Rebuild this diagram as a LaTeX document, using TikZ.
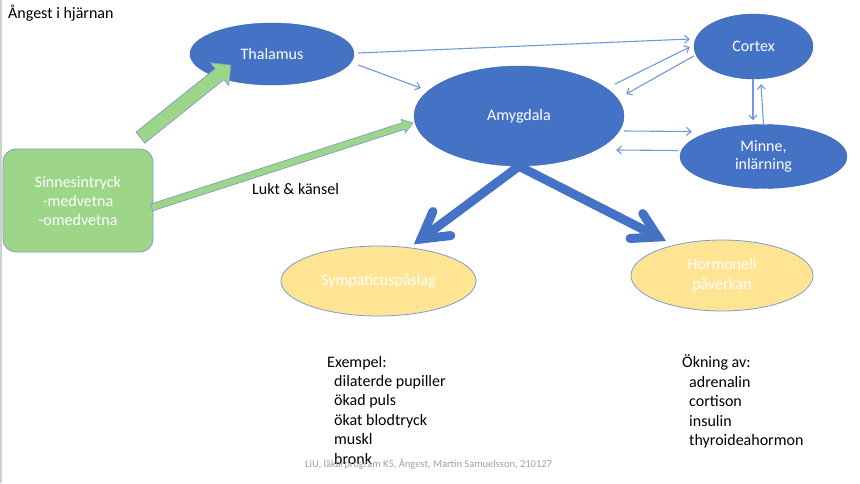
\documentclass[tikz,border=0pt]{standalone}
\usepackage{fontspec}
\setmainfont{Carlito}
\usetikzlibrary{shapes.geometric,calc,arrows.meta}
\definecolor{oblue}{HTML}{4472C4}
\definecolor{lblue}{HTML}{7397DA}
\definecolor{ogreen}{HTML}{9DD589}
\definecolor{oyellow}{HTML}{FFE593}
\definecolor{edgeb}{HTML}{7F9CCB}
\definecolor{footg}{HTML}{A0A0A0}
\definecolor{stripg}{HTML}{D0D0D0}
\newcommand{\blkarrow}[6]{%
  \path ($(#3)!#6!(#2)$) coordinate (hb);
  \filldraw[#1] ($(#2)!#4!90:(#3)$) -- ($(hb)!#4!90:(#3)$) -- ($(hb)!#5!90:(#3)$) -- (#3)
    -- ($(hb)!#5!-90:(#3)$) -- ($(hb)!#4!-90:(#3)$) -- ($(#2)!#4!-90:(#3)$) -- cycle;}
\tikzset{
  nodefont/.style={font=\fontsize{16}{19}\selectfont},
  blueell/.style={ellipse, fill=oblue, draw=oblue!90!black, line width=0.4pt, text=white,
    inner sep=0pt, align=center, nodefont},
  yellell/.style={ellipse, fill=oyellow, draw=edgeb, line width=0.8pt, text=white,
    inner sep=0pt, align=center, font=\fontsize{16}{20}\selectfont},
  greenbox/.style={rectangle, rounded corners=13pt, fill=ogreen, draw=edgeb, line width=0.8pt,
    text=white, inner sep=0pt, align=center, nodefont},
  thinarr/.style={draw=lblue, line width=1.1pt, -{Straight Barb[length=4.5pt,width=8pt]}},
  bigarr/.style={draw=oblue, line width=9pt, line cap=round, line join=miter},
  greenarr/.style={fill=ogreen, draw=edgeb, line width=0.7pt},
  txt/.style={anchor=base west, inner sep=0pt, font=\fontsize{16}{19}\selectfont, text=black},
}
\begin{document}
\begin{tikzpicture}[x=1pt,y=-1pt]
\useasboundingbox (0,0) rectangle (860,483);
\fill[white] (0,0) rectangle (860,483);
\fill[stripg] (0,0) rectangle (2,483);

% title
\node[txt] (title) at (8,18.5) {Ångest i hjärnan};

% nodes
\node[blueell, minimum width=164, minimum height=62] (thal) at (272,54) {Thalamus};
\node[blueell, minimum width=210, minimum height=100] (amy) at (519,116) {Amygdala};
\node[blueell, minimum width=119, minimum height=65] (cortex) at (753.5,46.5) {Cortex};
\node[blueell, minimum width=167, minimum height=64, font=\fontsize{16}{18}\selectfont] (minne) at (763.5,156.5) {Minne,\\inlärning};
\node[greenbox, minimum width=150, minimum height=103] (sinne) at (78,200.5) {Sinnesintryck\\-medvetna\\-omedvetna};
\node[yellell, minimum width=195, minimum height=70] (sym) at (378.5,281) {Sympaticuspåslag};
\node[yellell, minimum width=182, minimum height=71] (horm) at (722,275.5) {Hormonell\\påverkan};

% green block arrows
\coordinate (g1s) at ($(sinne.north east)+(-13,-11)$);
\coordinate (g1e) at ($(thal.south west)+(17,-11)$);
\blkarrow{greenarr}{g1s}{g1e}{7pt}{14.5pt}{14.5pt}
\coordinate (g2s) at ($(sinne.east)+(-2,7)$);
\coordinate (g2e) at ($(amy.west)+(-1,7)$);
\blkarrow{greenarr}{g2s}{g2e}{3.5pt}{7pt}{10pt}
\node[txt] (lukt) at (252,194) {Lukt \& känsel};

% thin arrows
\draw[thinarr] ($(thal.east)+(4,-1)$) -- ($(cortex.west)+(-4,-7.5)$);
\draw[thinarr] ($(thal.east)+(4,11)$) -- ($(amy.west)+(7,-28)$);
\draw[thinarr] ($(amy.east)+(-9,-32)$) -- ($(cortex.west)+(-4,0.5)$);
\draw[thinarr] ($(cortex.west)+(0,9.5)$) -- ($(amy.east)+(2,-22)$);
\draw[thinarr] ($(cortex.south)+(-0.5,0)$) -- ($(minne.north)+(-10.5,-4)$);
\draw[thinarr] (minne.north) -- ($(cortex.south)+(7.5,5)$);
\draw[thinarr] ($(amy.east)+(0,15)$) -- ($(minne.west)+(12,-25)$);
\draw[thinarr] ($(minne.west)+(-2,-6)$) -- ($(amy.east)+(-8,34)$);

% big blue arrows
\coordinate (t1) at (421,239);
\coordinate (t2) at (658,237);
\draw[bigarr] (amy.south) -- (t1);
\draw[bigarr] ($(t1)!30pt!30:(amy.south)$) -- (t1) -- ($(t1)!30pt!-30:(amy.south)$);
\draw[bigarr] (amy.south) -- (t2);
\draw[bigarr] ($(t2)!28pt!30:(amy.south)$) -- (t2) -- ($(t2)!28pt!-30:(amy.south)$);

% lists
\foreach \t [count=\i from 0] in {Exempel:,\hspace{7pt}dilaterde pupiller,\hspace{7pt}ökad puls,\hspace{7pt}ökat blodtryck,\hspace{7pt}muskl,\hspace{7pt}bronk}
  \node[txt] (ex\i) at (327,367+19.4*\i) {\t};
\foreach \t [count=\i from 0] in {Ökning av:,\hspace{7pt}adrenalin,\hspace{7pt}cortison,\hspace{7pt}insulin,\hspace{7pt}thyroideahormon}
  \node[txt] (ok\i) at (682,367.5+19.5*\i) {\t};

% footer
\node[anchor=base west, inner sep=0pt, text=footg, font=\fontsize{10.5}{12}\selectfont] (foot) at (305,467) {LiU, läkarprogram K5, Ångest, Martin Samuelsson, 210127};
\end{tikzpicture}
\end{document}
